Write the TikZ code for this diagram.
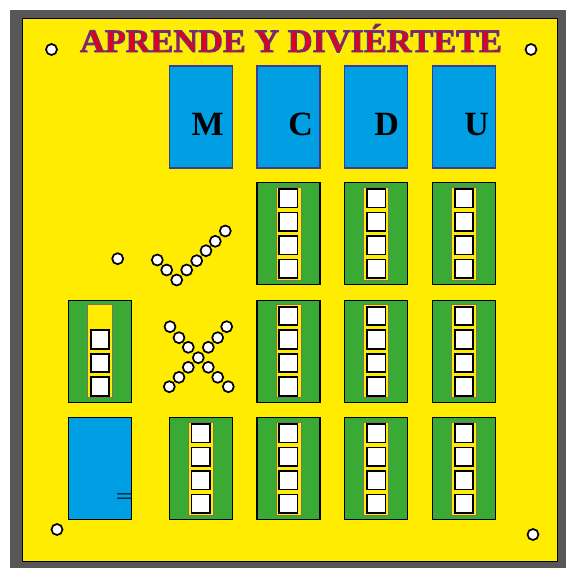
\documentclass[tikz,border=0pt]{standalone}
\usepackage{fontspec}
\usepackage{graphicx}
\newfontfamily\serifb{Liberation Serif}
\definecolor{framegray}{HTML}{575757}
\definecolor{boardyellow}{HTML}{FFEC00}
\definecolor{boxgreen}{HTML}{3AAA35}
\definecolor{boxblue}{HTML}{009FE3}
\definecolor{boxnavy}{HTML}{3B3C98}
\definecolor{titlered}{HTML}{E2001A}
\definecolor{stripgray}{HTML}{7A7560}
\newcommand{\titletxt}{\resizebox{422pt}{28pt}{\serifb\bfseries APRENDE Y DIVIÉRTETE}}
\newcommand{\outlineon}{\special{pdf:literal direct 2 Tr 0.28 w 1 j 0.29 0.247 0.612 RG}}
\newcommand{\outlineoff}{\special{pdf:literal direct 0 Tr 1 w 0 j}}
\tikzset{
  hole/.style={circle, fill=white, draw=black, line width=1.7pt, minimum size=11pt, inner sep=0pt},
  bluebox/.style={rectangle, fill=boxblue, draw=boxnavy, line width=1.2pt, minimum width=63pt, minimum height=102pt, inner sep=0pt},
  greenbox/.style={rectangle, fill=boxgreen, draw=black, line width=1.2pt, minimum width=63pt, minimum height=102pt, inner sep=0pt},
  strip/.style={rectangle, fill=boardyellow, draw=stripgray, line width=0.8pt, minimum width=25pt, minimum height=93pt, inner sep=0pt},
  sq/.style={rectangle, fill=white, draw=black, line width=1.6pt, minimum width=18.5pt, minimum height=18.5pt, inner sep=0pt},
  letter/.style={font=\serifb\bfseries\fontsize{34}{34}\selectfont, inner sep=0pt, text=black},
}
\newcommand{\abacusbox}[4]{%
  \node[greenbox] (#1) at (#2,#3) {};
  \node[strip] (#1-strip) at (#2,#3) {};
  \foreach \k in {1,...,4}{%
    \ifnum\k<#4\relax\else
      \node[sq] (#1-s\k) at (#2,#3+23.5*\k-58.75) {};
    \fi}%
}
\begin{document}
\begin{tikzpicture}[x=1pt,y=-1pt]
\useasboundingbox (0,0) rectangle (566,568);
% frame and board
\fill[framegray] (10,10) rectangle (566,568);
\draw[fill=boardyellow, line width=1.5pt] (22.5,18.5) rectangle (557.5,561.5);
% title
\node[anchor=base, inner sep=0pt, text=titlered] (title) at (291,52) {\outlineon\titletxt\outlineoff};
% corner holes
\node[hole] (h1) at (51.5,49.5) {};
\node[hole] (h2) at (531,49.5) {};
\node[hole] (h3) at (57,529.5) {};
\node[hole] (h4) at (533,534.5) {};
% place value boxes
\node[bluebox] (bM) at (200.8,117) {};
\node[bluebox] (bC) at (288.4,117) {};
\node[bluebox] (bD) at (376.3,117) {};
\node[bluebox] (bU) at (464,117) {};
\node[letter] (lM) at (207.7,124.7) {M};
\node[letter] (lC) at (300.7,124.7) {C};
\node[letter] (lD) at (386.7,124.7) {D};
\node[letter] (lU) at (476.7,124.7) {U};
% abacus boxes
\abacusbox{r1c2}{288.4}{233.6}{1}
\abacusbox{r1c3}{376.3}{233.6}{1}
\abacusbox{r1c4}{464}{233.6}{1}
\abacusbox{r2c0}{100}{351.2}{2}
\abacusbox{r2c2}{288.4}{351.2}{1}
\abacusbox{r2c3}{376.3}{351.2}{1}
\abacusbox{r2c4}{464}{351.2}{1}
\abacusbox{r3c1}{200.8}{468.6}{1}
\abacusbox{r3c2}{288.4}{468.6}{1}
\abacusbox{r3c3}{376.3}{468.6}{1}
\abacusbox{r3c4}{464}{468.6}{1}
% result box
\node[bluebox, draw=black] (res) at (100,468.7) {};
\node[inner sep=0pt, anchor=base, text=black, font=\bfseries\fontsize{20}{20}\selectfont] (eq) at (124.5,501.5) {=};
% dots
\node[hole] (dot) at (117.7,258.7) {};
\foreach \p [count=\i] in {(157.3,260),(166.7,270),(176.7,280),(186.7,270),(196.7,260.7),(206,250.7),(215.3,241.3),(225.3,231)}{
  \node[hole] (ck\i) at \p {};
}
\foreach \p [count=\i] in {(170,326.7),(179,337.7),(188.3,347.3),(226.7,326.7),(217.7,337.7),(208.3,347.3),(198.3,357.7),(188.3,367.3),(179,377.3),(169.3,386.7),(208.3,367.3),(217.7,377.3),(228.3,386.7)}{
  \node[hole] (x\i) at \p {};
}
\end{tikzpicture}
\end{document}
